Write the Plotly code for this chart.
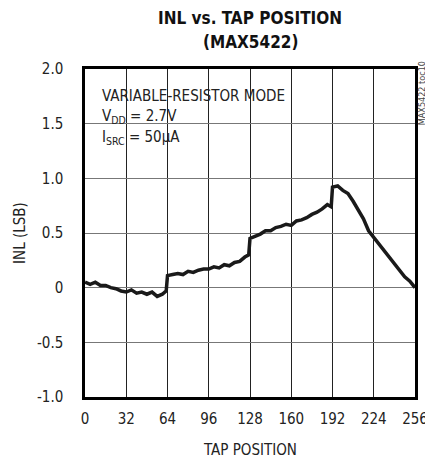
import plotly.graph_objects as go

tap = [0, 4, 8, 12, 16, 20, 24, 28, 32, 36, 40, 44, 48, 52, 56, 60, 63,
       64, 68, 72, 76, 80, 84, 88, 92, 96, 100, 104, 108, 112, 116, 120, 124, 127,
       128, 132, 136, 140, 144, 148, 152, 156, 160, 164, 168, 172, 176, 180, 184, 188, 191,
       192, 196, 200, 204, 208, 212, 216, 220, 224, 228, 232, 236, 240, 244, 248, 252, 256]
inl = [0.05, 0.03, 0.05, 0.02, 0.02, 0.00, -0.01, -0.03, -0.04, -0.02, -0.05, -0.04, -0.06, -0.04, -0.08, -0.06, -0.03,
       0.11, 0.12, 0.13, 0.12, 0.15, 0.14, 0.16, 0.17, 0.17, 0.19, 0.18, 0.21, 0.20, 0.23, 0.24, 0.28, 0.30,
       0.45, 0.47, 0.49, 0.52, 0.52, 0.55, 0.56, 0.58, 0.57, 0.61, 0.62, 0.64, 0.67, 0.69, 0.72, 0.76, 0.74,
       0.92, 0.93, 0.89, 0.86, 0.79, 0.71, 0.63, 0.52, 0.46, 0.39, 0.33, 0.27, 0.22, 0.16, 0.10, 0.06, 0.00]

x_ticks = [0, 32, 64, 96, 128, 160, 192, 224, 256]
y_ticks = [-1.0, -0.5, 0, 0.5, 1.0, 1.5, 2.0]
y_labels = ["-1.0", "-0.5", "0", "0.5", "1.0", "1.5", "2.0"]

FONT = "DejaVu Sans Condensed, Liberation Sans Narrow, Arial Narrow, sans-serif"

fig = go.Figure()
fig.add_trace(go.Scatter(x=tap, y=inl, mode="lines",
                         line=dict(color="#1a1a1a", width=3.5), showlegend=False))

fig.update_layout(
    width=425, height=455,
    margin=dict(l=85, r=10, t=69, b=58, autoexpand=False),
    paper_bgcolor="white", plot_bgcolor="white",
    font=dict(family=FONT, size=15, color="#222"),
    xaxis=dict(range=[0, 256], tickvals=x_ticks, ticktext=[str(v) for v in x_ticks],
               showgrid=True, gridcolor="#222", gridwidth=1,
               showline=True, linecolor="black", linewidth=2.5, mirror=True,
               zeroline=False, ticks="", ticklabelstandoff=6, ticklabeloverflow="allow"),
    yaxis=dict(range=[-1.0, 2.0], tickvals=y_ticks, ticktext=y_labels,
               showgrid=True, gridcolor="#777", gridwidth=1,
               showline=True, linecolor="black", linewidth=2.5, mirror=True,
               zeroline=False, ticks="", ticklabelstandoff=16, ticklabeloverflow="allow",
               title=dict(text="INL (LSB)", standoff=8, font=dict(size=15))),
)

# title (two lines)
fig.add_annotation(xref="paper", yref="paper", x=0.5, y=1.157, xanchor="center", yanchor="middle",
                   text="<b>INL vs. TAP POSITION</b>", showarrow=False,
                   font=dict(family=FONT, size=17, color="#111"))
fig.add_annotation(xref="paper", yref="paper", x=0.5, y=1.082, xanchor="center", yanchor="middle",
                   text="<b>(MAX5422)</b>", showarrow=False,
                   font=dict(family=FONT, size=17, color="#111"))

# x-axis title
fig.add_annotation(xref="paper", yref="paper", x=0.5, y=0, xanchor="center", yanchor="top",
                   yshift=-42, text="TAP POSITION", showarrow=False,
                   font=dict(family=FONT, size=15, color="#222"))

fig.add_annotation(xref="x", yref="y", x=12, y=1.757, xanchor="left", yanchor="middle",
                   text="VARIABLE-RESISTOR MODE", showarrow=False,
                   font=dict(family=FONT, size=15, color="#222"))
fig.add_annotation(xref="x", yref="y", x=12, y=1.565, xanchor="left", yanchor="middle",
                   text="V<sub>DD</sub> = 2.7V", showarrow=False,
                   font=dict(family=FONT, size=15, color="#222"))
fig.add_annotation(xref="x", yref="y", x=12, y=1.372, xanchor="left", yanchor="middle",
                   text="I<sub>SRC</sub> = 50μA", showarrow=False,
                   font=dict(family=FONT, size=15, color="#222"))
fig.add_annotation(xref="paper", yref="paper", x=1.0, y=1.03, xanchor="left", yanchor="top",
                   xshift=0, text="MAX5422 toc10", textangle=-90, showarrow=False,
                   font=dict(family=FONT, size=9, color="#444"))

fig.write_html("out.html", config={"displayModeBar": False},
               post_script="document.body.style.margin='0';")
